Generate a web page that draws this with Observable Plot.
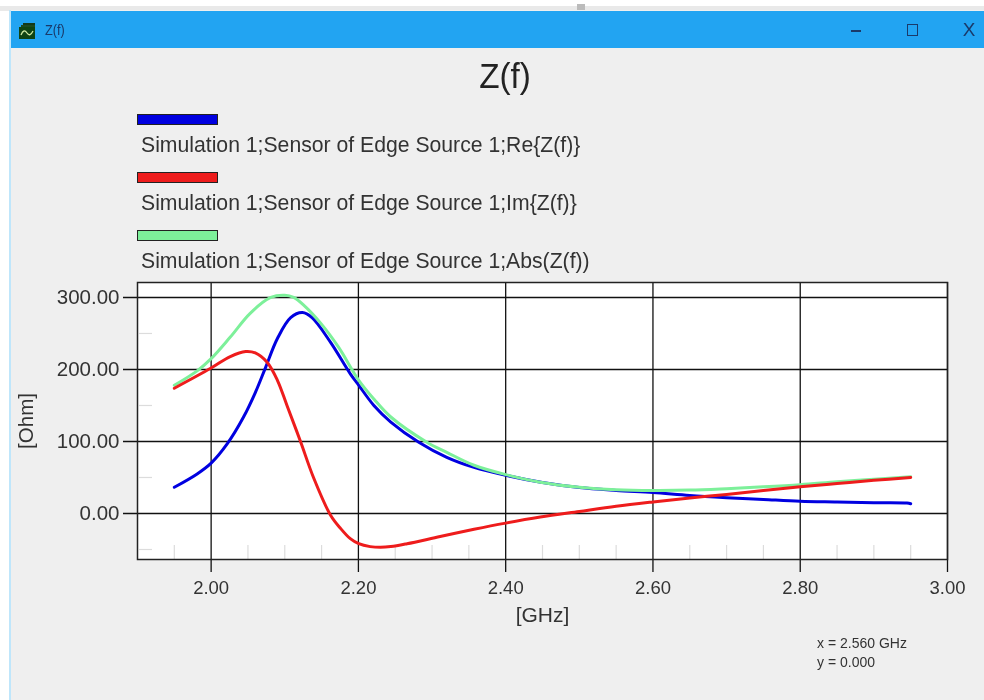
<!DOCTYPE html>
<html><head><meta charset="utf-8">
<script src="https://cdn.jsdelivr.net/npm/d3@7"></script>
<script src="https://cdn.jsdelivr.net/npm/@observablehq/plot@0.6"></script>
<style>
html,body{margin:0;padding:0;width:984px;height:700px;overflow:hidden;background:#fff;font-family:"Liberation Sans",Arial,sans-serif;color:#222}
#page{position:relative;width:984px;height:700px;overflow:hidden;filter:blur(.4px)}
.a{position:absolute;white-space:nowrap}
</style></head><body>
<div id="page"></div>
<script>
const chartTitle = "Z(f)";
const seriesNames = ["Simulation 1;Sensor of Edge Source 1;Re{Z(f)}","Simulation 1;Sensor of Edge Source 1;Im{Z(f)}","Simulation 1;Sensor of Edge Source 1;Abs(Z(f))"];
const seriesColors = ["#0000e0","#ee1c1c","#7df09a"];
const readout = ["x = 2.560 GHz","y = 0.000"];

const reF = [1.95,1.981,2.0,2.022,2.044,2.06,2.074,2.09,2.108,2.124,2.137,2.162,2.189,2.2005,2.221,2.244,2.282,2.32,2.357,2.4,2.45,2.5,2.55,2.6,2.65,2.7,2.75,2.8,2.85,2.9,2.945,2.95];
const reZ = [36.5,55,70,97,134,168,203,243,272,279,272,238,194,178,150,127,99,78,64,53,43,36,32,29,25,22,19.5,17,16,15,14.5,13.5];
const imF = [1.95,2.0,2.026,2.047,2.06,2.076,2.09,2.103,2.121,2.139,2.162,2.176,2.189,2.2005,2.216,2.23,2.244,2.266,2.311,2.357,2.4,2.447,2.5,2.55,2.6,2.65,2.7,2.75,2.8,2.85,2.9,2.95];
const imZ = [174,202,218,225,223,210,185,150,101,50,-2,-21,-35,-42,-46,-47,-46,-42,-32,-22,-13.4,-5,2.8,10,16,21.5,26.5,32,37,41.5,46,50];
const absF = [1.95,1.981,2.0,2.026,2.053,2.081,2.1,2.112,2.126,2.149,2.173,2.2005,2.221,2.244,2.293,2.32,2.357,2.4,2.447,2.5,2.55,2.6,2.65,2.7,2.75,2.8,2.85,2.9,2.95];
const absZ = [178,198,215,245,278,300,303,300,289,264,231,185,159,134,99,85,67,54,43.5,36.5,33,32,32.5,34.5,37,40,44,47.5,51];

const xMajor = [2.0,2.2,2.4,2.6,2.8,3.0];
const xMinor = [1.95,2.05,2.1,2.15,2.25,2.3,2.35,2.45,2.5,2.55,2.65,2.7,2.75,2.85,2.9,2.95];
const yMajor = [0,100,200,300];
const yMinor = [-50,50,150,250];

const table = (f,z,s)=>f.map((v,i)=>({f:v,z:z[i],s}));
const data = [...table(reF,reZ,0),...table(absF,absZ,2),...table(imF,imZ,1)];
const font = '"Liberation Sans",Arial,sans-serif';

const chart = Plot.plot({
  width:984,height:700,
  marginLeft:137,marginRight:37,marginTop:282,marginBottom:141,
  style:{background:"transparent",fontFamily:font,overflow:"visible"},
  x:{domain:[1.9,3.0]},
  y:{domain:[-63.9,320.8]},
  marks:[
    Plot.frame({fill:"#fff",stroke:"none"}),
    Plot.ruleX(xMinor,{stroke:"#dcdcdc",strokeWidth:1.2,insetTop:263}),
    Plot.ruleY(yMinor,{stroke:"#dcdcdc",strokeWidth:1.2,insetRight:795,insetLeft:2}),
    Plot.ruleX(xMajor,{stroke:"#111",strokeWidth:1.3,insetBottom:-13}),
    Plot.ruleY(yMajor,{stroke:"#111",strokeWidth:1.3,insetLeft:-14}),
    Plot.frame({stroke:"#222",strokeWidth:1.5}),
    Plot.line(data,{x:"f",y:"z",z:"s",stroke:d=>seriesColors[d.s],strokeWidth:3,curve:"catmull-rom"}),
    Plot.axisX(xMajor,{tickSize:0,tickPadding:21,tickFormat:d3.format(".2f"),fontSize:18.5,fill:"#333",label:null}),
    Plot.axisY(yMajor,{tickSize:0,tickPadding:18,tickFormat:d3.format(".2f"),fontSize:20.5,fill:"#333",label:null}),
    Plot.axisX({ticks:[],label:"[GHz]",labelAnchor:"center",labelArrow:"none",labelOffset:62,fontSize:21,fill:"#333",tickSize:0}),
    Plot.axisY({ticks:[],label:"[Ohm]",labelAnchor:"center",labelArrow:"none",labelOffset:119,fontSize:20.5,fill:"#333",tickSize:0})
  ]
});
const page = document.getElementById("page");
function box(x,y,w,h,css=""){const d=document.createElement("div");d.className="a";d.style.cssText=`left:${x}px;top:${y}px;width:${w}px;height:${h}px;${css}`;page.appendChild(d);return d;}
function txt(s,x,y,size,css=""){const d=document.createElement("div");d.className="a";d.textContent=s;d.style.cssText=`left:${x}px;top:${y}px;font-size:${size}px;line-height:1;${css}`;page.appendChild(d);return d;}

box(0,6,984,5,"background:#e9e9e9");
box(577,4,8,6,"background:#bbb");
box(9,10,975,690,"background:#efefef;border-left:2px solid #bfe6fb;box-sizing:border-box");
box(11,11,973,37,"background:#22a4f2");
box(19,22,16,17).innerHTML='<svg width="16" height="17" viewBox="0 0 16 17"><path d="M4 1h12v4H4z" fill="#143a1a"/><path d="M2 3h14v6H2z" fill="#1c4a20"/><path d="M0 5h16v12H0z" fill="#0f4412"/><path d="M2 13c2-5 4-5 6-2s4 2 6-2" fill="none" stroke="#cfe8a0" stroke-width="1.3"/></svg>';
txt(chartTitle,0,58,35,"width:1010px;text-align:center;color:#222;transform:scaleX(.95)");
txt(chartTitle,45,22,15,"color:#1a3a6a;transform:scaleX(.85);transform-origin:left");
box(851,30,10,2,"background:#1a3a6a");
box(907,24,11,12,"border:1.5px solid #1a3a6a;box-sizing:border-box");
txt("X",963,21,18,"color:#1a3a6a;transform:scaleX(1.05)");

const swY=[114,172,230], lbY=[134,192,250];
seriesNames.forEach((n,i)=>{
  box(137,swY[i],81,11,`background:${seriesColors[i]};border:1px solid #222;box-sizing:border-box`);
  txt(n,141,lbY[i],21.2,"color:#333");
});
txt(readout[0],817,636,14,"color:#333");
txt(readout[1],817,655,14,"color:#333");
page.appendChild(chart);
chart.style.position="absolute";chart.style.left="0";chart.style.top="0";
</script>
</body></html>
